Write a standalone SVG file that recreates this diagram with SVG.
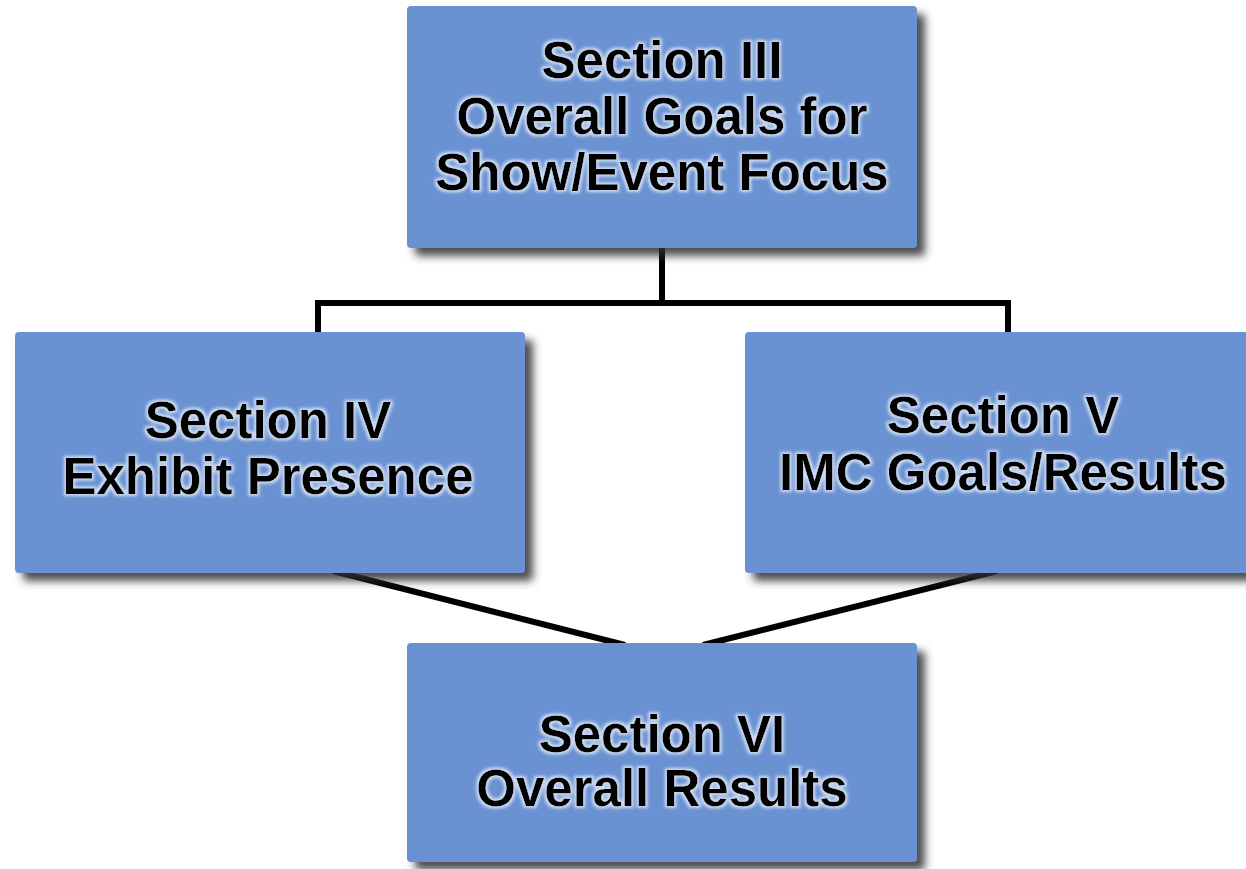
<svg xmlns="http://www.w3.org/2000/svg" width="1246" height="869" viewBox="0 0 1246 869">
  <defs>
    <filter id="boxShadow" x="-10%" y="-10%" width="130%" height="130%">
      <feGaussianBlur in="SourceAlpha" stdDeviation="4"/>
      <feOffset dx="8" dy="8" result="b"/>
      <feFlood flood-color="#2e2e2e" flood-opacity="0.85"/>
      <feComposite in2="b" operator="in" result="s"/>
      <feMerge><feMergeNode in="s"/><feMergeNode in="SourceGraphic"/></feMerge>
    </filter>
    <filter id="glow" x="-10%" y="-20%" width="120%" height="140%">
      <feMorphology in="SourceAlpha" operator="dilate" radius="1.5" result="d"/>
      <feGaussianBlur in="d" stdDeviation="1.5" result="g"/>
      <feFlood flood-color="#dfe8f7" flood-opacity="0.85"/>
      <feComposite in2="g" operator="in" result="h"/>
      <feMerge><feMergeNode in="h"/><feMergeNode in="SourceGraphic"/></feMerge>
    </filter>
  </defs>
  <style>
    .box { fill: #6a92d2; }
    .lbl { font-family: "Liberation Sans", Arial, sans-serif; font-weight: bold; font-size: 51px; fill: #000; text-anchor: middle; }
    .conn { stroke: #000; stroke-width: 6; fill: none; }
  </style>
  <rect width="1246" height="869" fill="#ffffff"/>

  <g id="connectors">
    <polyline class="conn" points="662,248 662,303"/>
    <polyline class="conn" points="318,332 318,303 1008,303 1008,332"/>
    <line class="conn" x1="333" y1="571" x2="625" y2="645"/>
    <line class="conn" x1="997" y1="571" x2="703" y2="645"/>
  </g>

  <g id="node-section3">
    <rect class="box" x="407" y="6" width="510" height="242" rx="4" filter="url(#boxShadow)"/>
    <g filter="url(#glow)">
      <text class="lbl" x="662" y="78">Section III</text>
      <text class="lbl" x="662" y="134">Overall Goals for</text>
      <text class="lbl" x="662" y="190">Show/Event Focus</text>
    </g>
  </g>

  <g id="node-section4">
    <rect class="box" x="15" y="332" width="510" height="241" rx="4" filter="url(#boxShadow)"/>
    <g filter="url(#glow)">
      <text class="lbl" x="268" y="438">Section IV</text>
      <text class="lbl" x="268" y="494">Exhibit Presence</text>
    </g>
  </g>

  <g id="node-section5">
    <rect class="box" x="745" y="332" width="520" height="241" rx="4" filter="url(#boxShadow)"/>
    <g filter="url(#glow)">
      <text class="lbl" x="1003" y="433">Section V</text>
      <text class="lbl" x="1003" y="490">IMC Goals/Results</text>
    </g>
  </g>

  <g id="node-section6">
    <rect class="box" x="407" y="643" width="510" height="219" rx="4" filter="url(#boxShadow)"/>
    <g filter="url(#glow)">
      <text class="lbl" x="662" y="752">Section VI</text>
      <text class="lbl" x="662" y="806">Overall Results</text>
    </g>
  </g>
</svg>
